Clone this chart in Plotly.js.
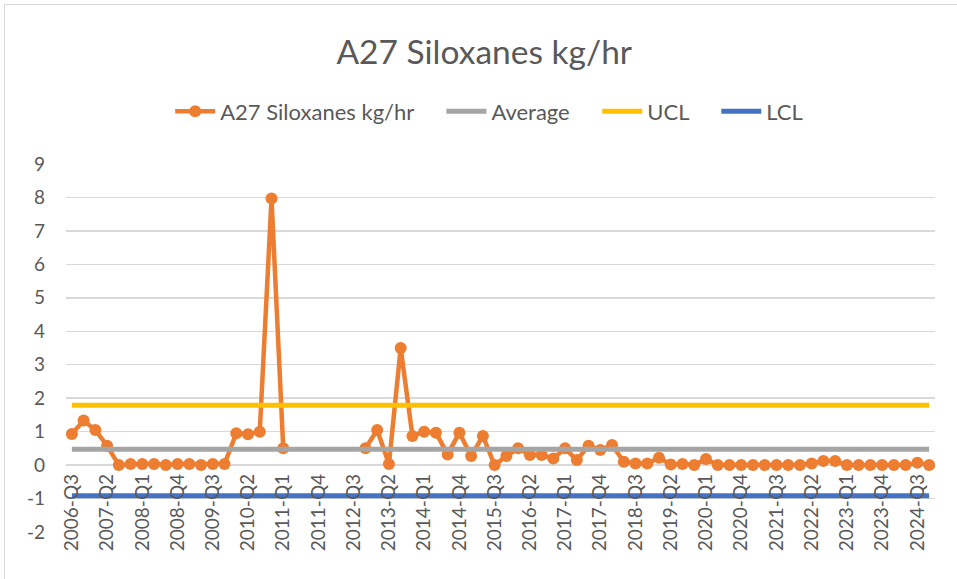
<!DOCTYPE html>
<html>
<head>
<meta charset="utf-8">
<script src="https://cdn.plot.ly/plotly-3.0.1.min.js"></script>
<style>
  html, body { margin: 0; padding: 0; background: #fff; }
  #wrap { position: relative; width: 957px; height: 579px; overflow: hidden; }
  #frame { position: absolute; left: 4px; top: 4px; width: 1000px; height: 600px;
           border-left: 1.5px solid #D9D9D9; border-top: 1.5px solid #D9D9D9; }
  #chart { position: absolute; left: 0; top: 0; width: 957px; height: 579px; }
</style>
</head>
<body>
<div id="wrap"><div id="frame"></div><div id="chart"></div></div>
<script>
const quarters = [
  "2006-Q3","2006-Q4","2007-Q1","2007-Q2","2007-Q3","2007-Q4","2008-Q1","2008-Q2","2008-Q3","2008-Q4",
  "2009-Q1","2009-Q2","2009-Q3","2009-Q4","2010-Q1","2010-Q2","2010-Q3","2010-Q4","2011-Q1","2011-Q2",
  "2011-Q3","2011-Q4","2012-Q1","2012-Q2","2012-Q3","2012-Q4","2013-Q1","2013-Q2","2013-Q3","2013-Q4",
  "2014-Q1","2014-Q2","2014-Q3","2014-Q4","2015-Q1","2015-Q2","2015-Q3","2015-Q4","2016-Q1","2016-Q2",
  "2016-Q3","2016-Q4","2017-Q1","2017-Q2","2017-Q3","2017-Q4","2018-Q1","2018-Q2","2018-Q3","2018-Q4",
  "2019-Q1","2019-Q2","2019-Q3","2019-Q4","2020-Q1","2020-Q2","2020-Q3","2020-Q4","2021-Q1","2021-Q2",
  "2021-Q3","2021-Q4","2022-Q1","2022-Q2","2022-Q3","2022-Q4","2023-Q1","2023-Q2","2023-Q3","2023-Q4",
  "2024-Q1","2024-Q2","2024-Q3","2024-Q4"
];
const siloxanes = [
  0.93, 1.33, 1.05, 0.58, 0.00, 0.03, 0.03, 0.03, 0.00, 0.03,
  0.03, 0.00, 0.03, 0.03, 0.95, 0.92, 1.00, 7.97, 0.50, null,
  null, null, null, null, null, 0.50, 1.05, 0.03, 3.50, 0.87,
  1.00, 0.97, 0.32, 0.97, 0.27, 0.87, 0.00, 0.27, 0.50, 0.30,
  0.30, 0.20, 0.50, 0.15, 0.58, 0.45, 0.60, 0.10, 0.05, 0.05,
  0.22, 0.02, 0.03, 0.00, 0.18, 0.00, 0.00, 0.00, 0.00, 0.00,
  0.00, 0.00, 0.00, 0.05, 0.12, 0.12, 0.00, 0.00, 0.00, 0.00,
  0.00, 0.00, 0.07, 0.00
];
const averageValue = 0.47;
const uclValue = 1.79;
const lclValue = -0.92;
const tickLabels = [
  "2006-Q3","2007-Q2","2008-Q1","2008-Q4","2009-Q3","2010-Q2","2011-Q1","2011-Q4","2012-Q3",
  "2013-Q2","2014-Q1","2014-Q4","2015-Q3","2016-Q2","2017-Q1","2017-Q4","2018-Q3","2019-Q2",
  "2020-Q1","2020-Q4","2021-Q3","2022-Q2","2023-Q1","2023-Q4","2024-Q3"
];
const yTicks = [-2,-1,0,1,2,3,4,5,6,7,8,9];

const seriesNames = ["A27 Siloxanes kg/hr", "Average", "UCL", "LCL"];
const colors = ["#ED7D31", "#A5A5A5", "#FFC000", "#4472C4"];

const fnt = "Lato, 'Open Sans', sans-serif";
const txt = "#595959";
const pad = "\u00a0\u00a0\u00a0\u00a0";

const traces = [
  { x: quarters, y: siloxanes, name: seriesNames[0] + pad, type: "scatter", mode: "lines+markers",
    connectgaps: false, line: { color: colors[0], width: 4.5 },
    marker: { color: colors[0], size: 12 } },
  { x: quarters, y: quarters.map(() => averageValue), name: seriesNames[1] + pad, type: "scatter", mode: "lines",
    line: { color: colors[1], width: 5 } },
  { x: quarters, y: quarters.map(() => uclValue), name: seriesNames[2] + pad, type: "scatter", mode: "lines",
    line: { color: colors[2], width: 5 } },
  { x: quarters, y: quarters.map(() => lclValue), name: seriesNames[3], type: "scatter", mode: "lines",
    line: { color: colors[3], width: 5 } }
];

const layout = {
  width: 957, height: 579,
  paper_bgcolor: "rgba(0,0,0,0)", plot_bgcolor: "rgba(0,0,0,0)",
  margin: { l: 66, r: 22, t: 164, b: 47 },
  font: { family: fnt, color: txt, size: 19 },
  title: { text: "A27 Siloxanes kg/hr", font: { family: fnt, size: 33.5, color: txt },
           x: 0.506, xref: "container", xanchor: "center", y: 0.91, yref: "container", yanchor: "middle" },
  showlegend: true,
  legend: { orientation: "h", x: 0.487, xanchor: "center", y: 1.143, yanchor: "middle",
            font: { family: fnt, size: 22, color: txt }, itemwidth: 40, traceorder: "normal" },
  xaxis: {
    type: "category", categoryorder: "array", categoryarray: quarters,
    range: [-0.5, quarters.length - 0.5],
    tickmode: "array", tickvals: tickLabels, ticktext: tickLabels, tickangle: -90,
    showgrid: false, zeroline: false, showline: false, ticks: "",
    anchor: "free", position: 2 / 11, ticklabelstandoff: 4,
    tickfont: { family: fnt, size: 19, color: txt }, fixedrange: true
  },
  yaxis: {
    range: [-2, 9], tickmode: "array", tickvals: yTicks, ticktext: yTicks.map(String),
    showgrid: true, gridcolor: "#D9D9D9", gridwidth: 1.5, zeroline: false, showline: false,
    ticks: "", ticklabelstandoff: 20, tickfont: { family: fnt, size: 19, color: txt }, fixedrange: true
  }
};

Plotly.newPlot("chart", traces, layout, { displayModeBar: false, staticPlot: true });
</script>
</body>
</html>
